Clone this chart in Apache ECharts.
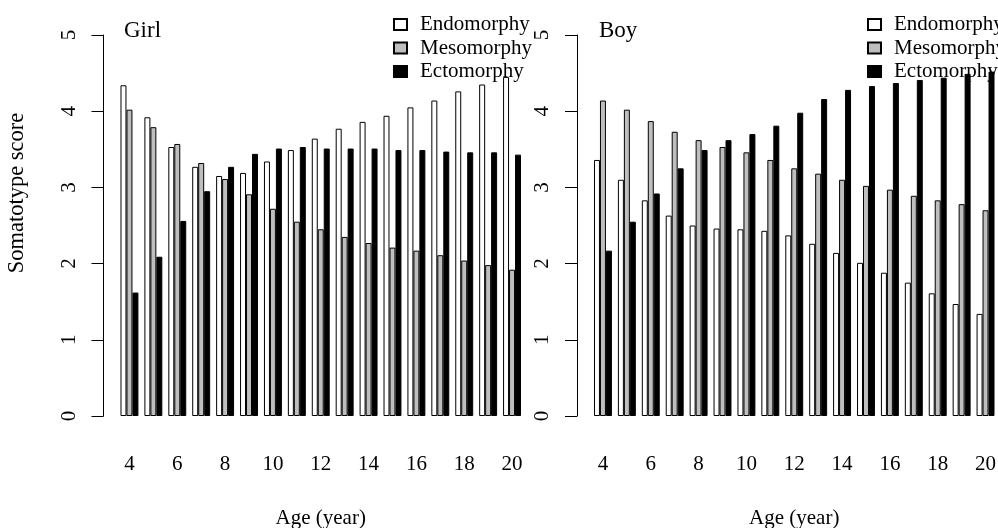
<!DOCTYPE html>
<html>
<head>
<meta charset="utf-8">
<script src="https://cdn.jsdelivr.net/npm/echarts@6/dist/echarts.min.js"></script>
<style>
html,body{margin:0;padding:0;background:#fff;}
#chart{width:998px;height:528px;}
</style>
</head>
<body>
<div id="chart"></div>
<script>
var ages = ['4','5','6','7','8','9','10','11','12','13','14','15','16','17','18','19','20'];
var yTicks = [0, 1, 2, 3, 4, 5];
var seriesNames = ['Endomorphy', 'Mesomorphy', 'Ectomorphy'];
var panelTitles = ['Girl', 'Boy'];

var girlEndo = [4.34,3.92,3.53,3.27,3.15,3.19,3.34,3.49,3.64,3.77,3.86,3.94,4.05,4.14,4.26,4.35,4.45];
var girlMeso = [4.02,3.79,3.57,3.32,3.11,2.91,2.72,2.55,2.45,2.35,2.27,2.21,2.17,2.11,2.04,1.98,1.92];
var girlEcto = [1.62,2.09,2.56,2.95,3.27,3.44,3.51,3.53,3.51,3.51,3.51,3.49,3.49,3.47,3.46,3.46,3.43];

var boyEndo = [3.36,3.10,2.83,2.63,2.50,2.46,2.45,2.43,2.37,2.26,2.14,2.01,1.88,1.75,1.61,1.47,1.34];
var boyMeso = [4.14,4.02,3.87,3.73,3.62,3.53,3.46,3.36,3.25,3.18,3.10,3.02,2.97,2.89,2.83,2.78,2.70];
var boyEcto = [2.17,2.55,2.92,3.25,3.49,3.62,3.70,3.81,3.98,4.16,4.28,4.33,4.37,4.41,4.44,4.49,4.52];

var FONT = 'Liberation Serif, Times New Roman, serif';
var fills = ['#ffffff', '#bebebe', '#000000'];

var chart = echarts.init(document.getElementById('chart'), null, {renderer: 'canvas'});

function xAxisCfg(gi) {
  return {
    type: 'category', gridIndex: gi, data: ages,
    axisLine: {show: false}, axisTick: {show: false},
    axisLabel: {interval: 1, margin: 38, color: '#000', fontFamily: FONT, fontSize: 21},
    name: 'Age (year)', nameLocation: 'middle', nameGap: 92,
    nameTextStyle: {color: '#000', fontFamily: FONT, fontSize: 21}
  };
}
function yAxisCfg(gi, withName) {
  var c = {
    type: 'value', gridIndex: gi, min: yTicks[0], max: yTicks[yTicks.length - 1], interval: 1,
    offset: 14,
    axisLine: {show: true, lineStyle: {color: '#000', width: 1}},
    axisTick: {show: true, length: 12, lineStyle: {color: '#000', width: 1}},
    splitLine: {show: false},
    axisLabel: {rotate: 90, margin: 24, color: '#000', fontFamily: FONT, fontSize: 21}
  };
  if (withName) {
    c.name = 'Somatotype score';
    c.nameLocation = 'middle';
    c.nameRotate = 90;
    c.nameGap = 75;
    c.nameTextStyle = {color: '#000', fontFamily: FONT, fontSize: 22.5, padding: [0, 0, 0, 65]};
  }
  return c;
}
function barSeries(name, data, gi, idx) {
  return {
    type: 'bar', name: name, data: data, xAxisIndex: gi, yAxisIndex: gi,
    barGap: '0%', barCategoryGap: '25%',
    itemStyle: {color: fills[idx], borderColor: '#000', borderWidth: 1},
    emphasis: {disabled: true}, animation: false
  };
}
function legendCfg(left) {
  return {
    orient: 'vertical', left: left, top: 9, itemWidth: 13, itemHeight: 11, itemGap: 2.5,
    icon: 'rect', data: seriesNames,
    textStyle: {color: '#000', fontFamily: FONT, fontSize: 21, lineHeight: 21, padding: [0, 0, 0, 8]}
  };
}

var option = {
  backgroundColor: '#fff',
  animation: false,
  title: [
    {text: panelTitles[0], left: 124, top: 19, padding: 0, textStyle: {color: '#000', fontFamily: FONT, fontSize: 23, fontWeight: 'normal'}},
    {text: panelTitles[1], left: 599, top: 19, padding: 0, textStyle: {color: '#000', fontFamily: FONT, fontSize: 23, fontWeight: 'normal'}}
  ],
  legend: [legendCfg(388), legendCfg(862)],
  grid: [
    {left: 117.5, width: 406.5, top: 35, bottom: 112, containLabel: false, outerBoundsMode: 'none'},
    {left: 591, width: 406.5, top: 35, bottom: 112, containLabel: false, outerBoundsMode: 'none'}
  ],
  xAxis: [xAxisCfg(0), xAxisCfg(1)],
  yAxis: [yAxisCfg(0, true), yAxisCfg(1, false)],
  series: [
    barSeries(seriesNames[0], girlEndo, 0, 0),
    barSeries(seriesNames[1], girlMeso, 0, 1),
    barSeries(seriesNames[2], girlEcto, 0, 2),
    barSeries(seriesNames[0], boyEndo, 1, 0),
    barSeries(seriesNames[1], boyMeso, 1, 1),
    barSeries(seriesNames[2], boyEcto, 1, 2)
  ]
};
chart.setOption(option);
</script>
</body>
</html>
